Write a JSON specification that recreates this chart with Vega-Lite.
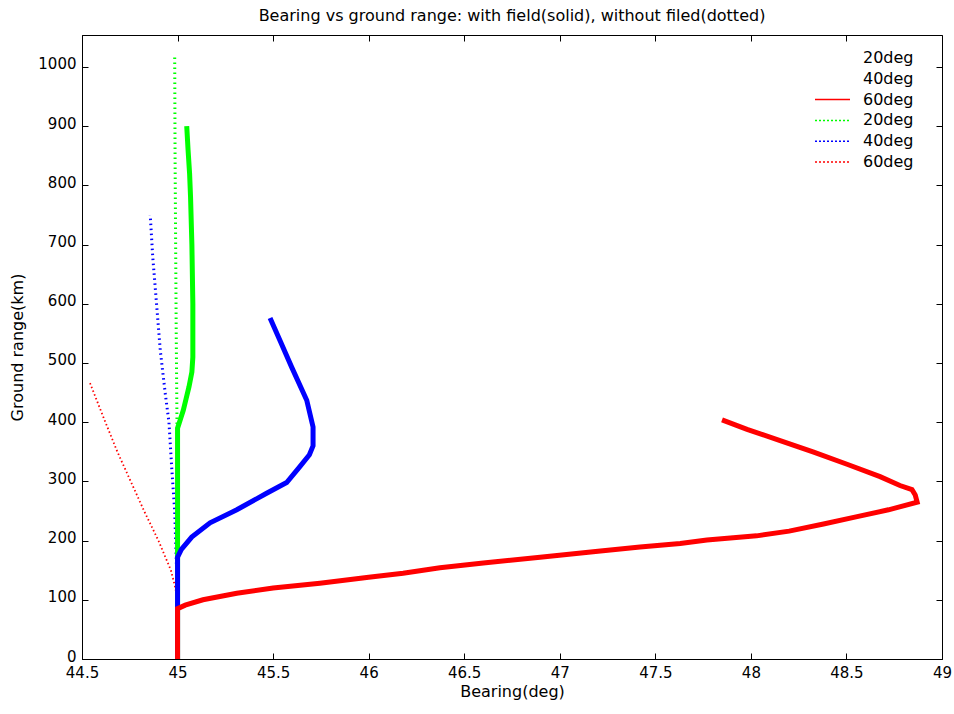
{
  "$schema": "https://vega.github.io/schema/vega-lite/v6.json",
  "width": 860,
  "height": 624,
  "autosize": {"type": "none"},
  "padding": {"left": 82, "top": 35, "right": 12, "bottom": 55},
  "background": "white",
  "config": {
    "font": "DejaVu Sans",
    "view": {"stroke": "black", "strokeWidth": 1},
    "axis": {"labelFont": "DejaVu Sans", "titleFont": "DejaVu Sans", "labelColor": "black", "titleColor": "black", "labelFontSize": 15, "titleFontSize": 16, "titleFontWeight": "normal", "domainColor": "black", "tickColor": "black", "grid": false}
  },
  "title": {"text": "Bearing vs ground range: with field(solid), without filed(dotted)", "fontSize": 16, "fontWeight": "normal", "font": "DejaVu Sans", "color": "black", "anchor": "middle", "offset": 11},
  "data": {
    "values": [
      {"s": "20d", "b": 45.0, "r": 0},
      {"s": "20d", "b": 45.0, "r": 250},
      {"s": "20d", "b": 44.997, "r": 400},
      {"s": "20d", "b": 44.993, "r": 550},
      {"s": "20d", "b": 44.99, "r": 700},
      {"s": "20d", "b": 44.987, "r": 850},
      {"s": "20d", "b": 44.985, "r": 1020},
      {"s": "40d", "b": 45.0, "r": 0},
      {"s": "40d", "b": 44.995, "r": 150},
      {"s": "40d", "b": 44.985, "r": 250},
      {"s": "40d", "b": 44.97, "r": 320},
      {"s": "40d", "b": 44.955, "r": 400},
      {"s": "40d", "b": 44.935, "r": 450},
      {"s": "40d", "b": 44.91, "r": 520},
      {"s": "40d", "b": 44.89, "r": 600},
      {"s": "40d", "b": 44.87, "r": 680},
      {"s": "40d", "b": 44.857, "r": 750},
      {"s": "60d", "b": 45.0, "r": 0},
      {"s": "60d", "b": 45.0, "r": 100},
      {"s": "60d", "b": 44.985, "r": 125},
      {"s": "60d", "b": 44.965, "r": 150},
      {"s": "60d", "b": 44.9, "r": 200},
      {"s": "60d", "b": 44.825, "r": 250},
      {"s": "60d", "b": 44.755, "r": 300},
      {"s": "60d", "b": 44.685, "r": 350},
      {"s": "60d", "b": 44.61, "r": 410},
      {"s": "60d", "b": 44.542, "r": 466},
      {"s": "20s", "b": 45.0, "r": 0},
      {"s": "20s", "b": 45.0, "r": 390},
      {"s": "20s", "b": 45.015, "r": 405},
      {"s": "20s", "b": 45.03, "r": 420},
      {"s": "20s", "b": 45.045, "r": 440},
      {"s": "20s", "b": 45.06, "r": 460},
      {"s": "20s", "b": 45.075, "r": 485},
      {"s": "20s", "b": 45.08, "r": 510},
      {"s": "20s", "b": 45.08, "r": 600},
      {"s": "20s", "b": 45.075, "r": 700},
      {"s": "20s", "b": 45.068, "r": 780},
      {"s": "20s", "b": 45.063, "r": 820},
      {"s": "20s", "b": 45.055, "r": 860},
      {"s": "20s", "b": 45.048, "r": 900},
      {"s": "40s", "b": 45.0, "r": 0},
      {"s": "40s", "b": 45.0, "r": 172},
      {"s": "40s", "b": 45.02, "r": 185},
      {"s": "40s", "b": 45.074, "r": 206},
      {"s": "40s", "b": 45.17, "r": 230},
      {"s": "40s", "b": 45.31, "r": 252},
      {"s": "40s", "b": 45.466, "r": 280},
      {"s": "40s", "b": 45.571, "r": 298},
      {"s": "40s", "b": 45.64, "r": 325},
      {"s": "40s", "b": 45.69, "r": 345},
      {"s": "40s", "b": 45.709, "r": 360},
      {"s": "40s", "b": 45.709, "r": 392},
      {"s": "40s", "b": 45.676, "r": 437},
      {"s": "40s", "b": 45.597, "r": 493},
      {"s": "40s", "b": 45.54, "r": 535},
      {"s": "40s", "b": 45.484, "r": 576},
      {"s": "60s", "b": 45.0, "r": 0},
      {"s": "60s", "b": 45.0, "r": 85},
      {"s": "60s", "b": 45.04, "r": 91},
      {"s": "60s", "b": 45.133, "r": 100},
      {"s": "60s", "b": 45.31, "r": 111},
      {"s": "60s", "b": 45.5, "r": 120},
      {"s": "60s", "b": 45.745, "r": 128},
      {"s": "60s", "b": 46.0, "r": 138},
      {"s": "60s", "b": 46.18, "r": 145},
      {"s": "60s", "b": 46.373, "r": 154},
      {"s": "60s", "b": 46.6, "r": 162},
      {"s": "60s", "b": 46.897, "r": 172},
      {"s": "60s", "b": 47.2, "r": 182},
      {"s": "60s", "b": 47.42, "r": 189},
      {"s": "60s", "b": 47.63, "r": 195},
      {"s": "60s", "b": 47.77, "r": 201},
      {"s": "60s", "b": 48.03, "r": 208},
      {"s": "60s", "b": 48.2, "r": 216},
      {"s": "60s", "b": 48.38, "r": 228},
      {"s": "60s", "b": 48.55, "r": 240},
      {"s": "60s", "b": 48.72, "r": 252},
      {"s": "60s", "b": 48.87, "r": 265},
      {"s": "60s", "b": 48.86, "r": 277},
      {"s": "60s", "b": 48.843, "r": 286},
      {"s": "60s", "b": 48.78, "r": 293},
      {"s": "60s", "b": 48.676, "r": 308},
      {"s": "60s", "b": 48.503, "r": 329},
      {"s": "60s", "b": 48.325, "r": 350},
      {"s": "60s", "b": 48.153, "r": 369},
      {"s": "60s", "b": 47.98, "r": 388},
      {"s": "60s", "b": 47.849, "r": 404}
    ]
  },
  "encoding": {
    "x": {"field": "b", "type": "quantitative", "title": "Bearing(deg)", "scale": {"domain": [44.5, 49], "nice": false, "zero": false}, "axis": {"values": [44.5, 45, 45.5, 46, 46.5, 47, 47.5, 48, 48.5, 49], "format": "~g", "tickSize": -6, "labelPadding": 12, "titlePadding": 3, "labelFlush": false}},
    "y": {"field": "r", "type": "quantitative", "title": "Ground range(km)", "scale": {"domain": [0, 1054], "nice": false}, "axis": {"values": [0, 100, 200, 300, 400, 500, 600, 700, 800, 900, 1000], "format": "d", "tickSize": -6, "labelPadding": 12, "labelOffset": -3, "titlePadding": 12, "labelFlush": false}},
    "order": {"field": "r", "type": "quantitative"},
    "color": {"field": "s", "type": "nominal", "scale": {"domain": ["20s", "40s", "60s", "20d", "40d", "60d"], "range": ["#00ff00", "#0000ff", "#ff0000", "#00ff00", "#0000ff", "#ff0000"]},
      "legend": {"title": null, "orient": "none", "legendX": 732, "legendY": 15, "padding": 0, "symbolType": "stroke", "symbolSize": 1225, "symbolStrokeWidth": 1.5, "clipHeight": 16, "rowPadding": 4.8, "labelOffset": 12, "labelFontSize": 16, "labelFont": "DejaVu Sans", "labelColor": "black", "labelExpr": "slice(datum.label, 0, 2) + 'deg'",
        "encode": {"symbols": {"update": {"strokeOpacity": {"signal": "(datum.value == '20s' || datum.value == '40s') ? 0 : 1"}, "strokeDash": {"signal": "(datum.value == '20d' || datum.value == '40d' || datum.value == '60d') ? [2, 2] : [1, 0]"}}}}
      }
    }
  },
  "layer": [
    {
      "layer": [
        {"transform": [{"filter": "datum.s == '60d'"}], "mark": {"type": "line", "strokeWidth": 1.8, "strokeDash": [1.5, 2.5]}},
        {"transform": [{"filter": "datum.s == '40d' || datum.s == '20d'"}], "mark": {"type": "line", "strokeWidth": 3, "strokeDash": [1.5, 3.5]}},
        {"transform": [{"filter": "datum.s == '20s'"}], "mark": {"type": "line", "strokeWidth": 5}},
        {"transform": [{"filter": "datum.s == '40s'"}], "mark": {"type": "line", "strokeWidth": 5}},
        {"transform": [{"filter": "datum.s == '60s'"}], "mark": {"type": "line", "strokeWidth": 5}}
      ]
    },
    {
      "mark": {"type": "line", "strokeOpacity": 0},
      "encoding": {
        "x": {"field": "b", "type": "quantitative", "scale": {"domain": [44.5, 49], "nice": false, "zero": false}, "axis": {"orient": "top", "values": [44.5, 45, 45.5, 46, 46.5, 47, 47.5, 48, 48.5, 49], "labels": false, "title": null, "tickSize": -6, "domain": false}},
        "y": {"field": "r", "type": "quantitative", "scale": {"domain": [0, 1054], "nice": false}, "axis": {"orient": "right", "values": [0, 100, 200, 300, 400, 500, 600, 700, 800, 900, 1000], "labels": false, "title": null, "tickSize": -6, "domain": false}},
        "color": {"value": "transparent"}
      }
    }
  ],
  "resolve": {"axis": {"x": "independent", "y": "independent"}}
}
